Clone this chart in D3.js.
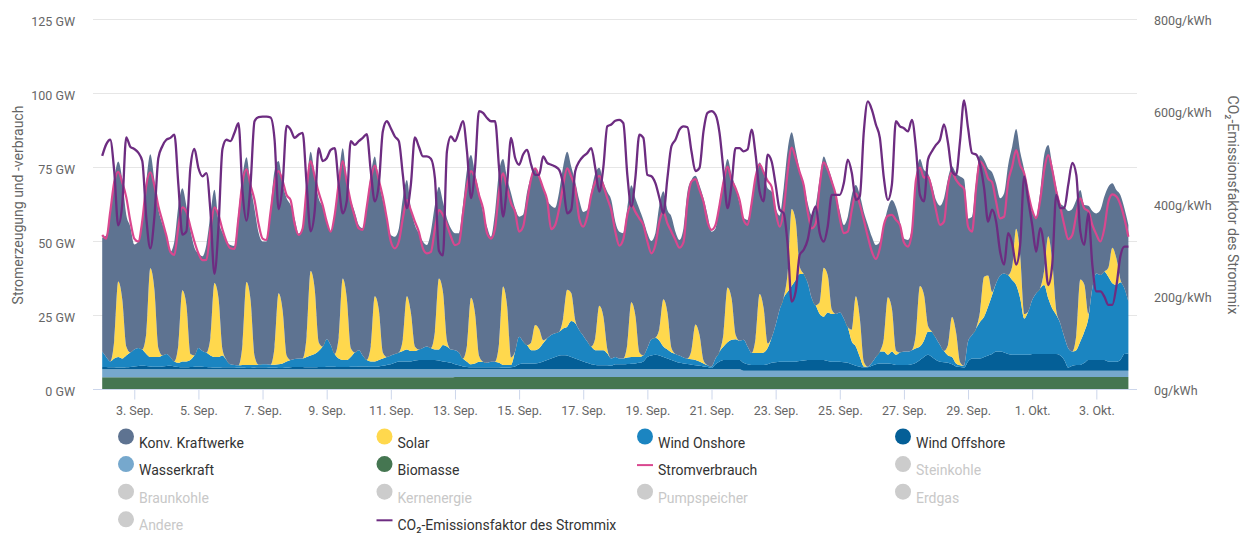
<!DOCTYPE html>
<html><head><meta charset="utf-8">
<script src="https://cdn.jsdelivr.net/npm/d3@7/dist/d3.min.js"></script>
<style>
body{margin:0;background:#fff;}
svg{display:block;font-family:Roboto,"Noto Sans",sans-serif;}
</style></head><body>
<svg id="chart" width="1240" height="534"></svg>
<script>
// time grid: 2 Sep 2021 00:00 UTC, one reading every 3 hours (8 per day), 32 days + end point
const startUTC = Date.UTC(2021, 8, 2, 0);
const stepHours = 3;

// GW, rows = days (0h,3h,6h,9h,12h,15h,18h,21h)
const biomasse = [
4.1,4.1,4.1,4.1,4.1,4.1,4.1,4.1, 4.1,4.1,4.1,4.1,4.1,4.1,4.1,4.1, 4.1,4.1,4.1,4.1,4.1,4.1,4.1,4.1,
4.1,4.1,4.1,4.1,4.1,4.1,4.1,4.1, 4.1,4.1,4.1,4.1,4.1,4.1,4.1,4.1, 4.1,4.1,4.1,4.1,4.1,4.1,4.1,4.1,
4.1,4.1,4.1,4.1,4.1,4.1,4.1,4.1, 4.1,4.1,4.1,4.1,4.1,4.1,4.1,4.1, 4.1,4.1,4.1,4.1,4.1,4.1,4.1,4.1,
4.1,4.1,4.1,4.1,4.1,4.1,4.1,4.1, 4.1,4.1,4.1,4.1,4.1,4.1,4.1,4.1, 4.2,4.2,4.2,4.2,4.2,4.2,4.2,4.2,
4.2,4.2,4.2,4.2,4.2,4.2,4.2,4.2, 4.2,4.2,4.2,4.2,4.2,4.2,4.2,4.2, 4.2,4.2,4.2,4.2,4.2,4.2,4.2,4.2,
4.2,4.2,4.2,4.2,4.2,4.2,4.2,4.2, 4.2,4.2,4.2,4.2,4.2,4.2,4.2,4.2, 4.2,4.2,4.2,4.2,4.2,4.2,4.2,4.2,
4.2,4.2,4.2,4.2,4.2,4.2,4.2,4.2, 4.2,4.2,4.2,4.2,4.2,4.2,4.2,4.2, 4.2,4.2,4.2,4.2,4.2,4.2,4.2,4.2,
4.2,4.2,4.2,4.2,4.2,4.2,4.2,4.2, 4.2,4.2,4.2,4.2,4.2,4.2,4.2,4.2, 4.2,4.2,4.2,4.2,4.2,4.2,4.2,4.2,
4.2,4.2,4.2,4.2,4.2,4.2,4.2,4.2, 4.2,4.2,4.2,4.2,4.2,4.2,4.2,4.2, 4.2,4.2,4.2,4.2,4.2,4.2,4.2,4.2,
4.2,4.2,4.2,4.2,4.2,4.2,4.2,4.2, 4.2,4.2,4.2,4.2,4.2,4.2,4.2,4.2, 4.2,4.2,4.2,4.2,4.2,4.2,4.2,4.2,
4.2,4.2,4.2,4.2,4.2,4.2,4.2,4.2, 4.2,4.2,4.2,4.2,4.2,4.2,4.2,4.2,
4.2];

const wasserkraft = [
2.7,2.7,2.7,2.7,2.7,2.7,2.7,2.7, 2.7,2.7,2.7,2.7,2.7,2.7,2.7,2.7, 2.7,2.7,2.7,2.7,2.7,2.7,2.7,2.7,
2.7,2.7,2.7,2.7,2.7,2.7,2.7,2.7, 2.7,2.7,2.7,2.7,2.7,2.7,2.7,2.7, 2.7,2.7,2.7,2.7,2.7,2.7,2.7,2.7,
2.7,2.7,2.7,2.7,2.7,2.7,2.7,2.7, 2.7,2.7,2.7,2.7,2.7,2.7,2.7,2.7, 2.7,2.7,2.7,2.7,2.7,2.7,2.7,2.7,
2.7,2.7,2.7,2.7,2.7,2.7,2.7,2.7, 2.7,2.7,2.7,2.7,2.7,2.7,2.7,2.7, 2.6,2.6,2.6,2.6,2.6,2.6,2.6,2.6,
2.6,2.6,2.6,2.6,2.6,2.6,2.6,2.6, 2.6,2.6,2.6,2.6,2.6,2.6,2.6,2.6, 2.6,2.6,2.6,2.6,2.6,2.6,2.6,2.6,
2.6,2.6,2.6,2.6,2.6,2.6,2.6,2.6, 2.6,2.6,2.6,2.6,2.6,2.6,2.6,2.6, 2.6,2.6,2.6,2.6,2.6,2.6,2.6,2.6,
2.6,2.6,2.6,2.6,2.6,2.6,2.6,2.6, 2.6,2.6,2.6,2.6,2.6,2.6,2.6,2.6, 2.1,2.1,2.1,2.1,2.1,2.1,2.1,2.1,
2.1,2.1,2.1,2.1,2.1,2.1,2.1,2.1, 2.1,2.1,2.1,2.1,2.1,2.1,2.1,2.1, 2.1,2.1,2.1,2.1,2.1,2.1,2.1,2.1,
2.1,2.1,2.1,2.1,2.1,2.1,2.1,2.1, 2.1,2.1,2.1,2.1,2.1,2.1,2.1,2.1, 2.1,2.1,2.1,2.1,2.1,2.1,2.1,2.1,
2.1,2.1,2.1,2.1,2.1,2.1,2.1,2.1, 2.1,2.1,2.1,2.1,2.1,2.1,2.1,2.1, 2.1,2.1,2.1,2.1,2.1,2.1,2.1,2.1,
2.1,2.1,2.1,2.1,2.1,2.1,2.1,2.1, 2.1,2.1,2.1,2.1,2.1,2.1,2.1,2.1,
2.1];

const windOffshore = [
0.8,0.8,0.7,0.7,0.6,0.6,0.7,0.8, 1.0,1.1,1.2,1.1,1.0,0.9,0.9,1.0, 1.1,1.2,1.0,0.8,0.7,0.7,0.8,0.9,
1.0,0.9,0.8,0.7,0.6,0.6,0.7,0.7, 0.7,0.7,0.6,0.6,0.5,0.5,0.6,0.7, 0.7,0.7,0.6,0.6,0.5,0.5,0.6,0.7,
0.8,0.8,0.8,0.7,0.7,0.7,0.8,0.8, 0.9,0.9,0.9,0.8,0.8,0.8,0.9,0.9, 1.0,1.0,1.0,0.9,0.9,1.0,1.2,1.5,
1.7,2.2,2.7,2.7,2.7,2.7,3.0,3.2, 3.2,3.2,3.2,3.2,3.0,2.7,2.5,2.2, 1.7,1.4,1.0,0.8,0.7,0.7,0.7,0.7,
0.7,0.7,0.7,0.7,0.6,0.6,0.7,1.0, 1.7,2.0,2.0,2.0,2.0,2.2,2.7,3.2, 3.7,4.2,4.7,4.8,4.7,4.2,3.7,3.2,
2.7,2.2,1.7,1.5,1.4,1.4,1.4,1.2, 1.7,1.7,1.7,1.8,1.9,2.0,2.2,2.7, 4.2,4.7,4.9,4.7,4.2,3.7,3.2,2.7,
2.2,2.0,1.8,1.6,1.4,1.2,1.0,0.8, 0.5,1.7,2.7,3.2,3.2,3.2,3.2,3.2, 2.7,2.2,2.0,2.0,2.0,2.0,2.2,2.7,
2.9,3.1,3.1,3.1,3.1,3.1,3.3,3.5, 3.7,3.7,3.7,3.7,3.7,3.3,3.1,3.1, 3.1,2.9,2.7,2.2,1.7,1.4,1.2,1.2,
1.7,2.2,2.5,2.5,2.5,2.3,2.0,2.0, 2.0,2.0,2.2,2.7,3.7,4.7,5.4,4.7, 3.7,3.1,2.9,2.7,2.2,1.5,1.3,1.1,
3.2,4.2,4.2,4.2,4.7,5.2,5.7,6.5, 6.5,6.2,5.7,5.4,5.4,5.4,5.4,5.4, 5.7,5.7,5.7,5.7,5.7,5.7,5.7,5.2,
3.7,1.1,1.7,2.0,2.0,2.7,3.7,3.7, 3.7,3.7,3.7,3.2,3.1,3.1,3.7,5.7,
5.9];

const windOnshore = [
5.2,3.4,2.0,3.0,3.6,3.1,4.0,4.9, 5.7,6.1,5.5,4.1,3.2,3.3,3.3,3.7, 4.1,3.0,1.7,1.4,2.0,2.0,2.4,3.8,
6.2,5.3,4.9,4.0,3.6,3.6,4.0,2.5, 1.0,0.8,0.8,0.9,1.0,1.0,0.9,0.9, 1.0,1.0,1.0,1.0,1.2,1.5,2.1,2.5,
2.7,2.9,2.9,3.5,4.0,4.5,5.4,6.9, 9.3,7.3,4.3,2.9,2.4,2.4,3.3,4.8, 5.5,3.7,2.2,1.8,1.8,2.2,2.5,2.7,
3.0,3.0,3.0,3.5,4.0,3.5,3.2,3.5, 4.0,4.5,4.0,3.5,3.7,5.5,5.2,4.5, 4.8,4.3,2.7,1.8,1.0,1.3,1.9,1.9,
1.5,1.9,1.9,1.5,0.9,0.9,0.8,5.0, 9.3,7.4,6.2,4.5,4.5,4.9,6.1,7.3, 7.9,8.0,8.0,9.0,9.7,12.1,11.9,10.1,
8.7,7.2,6.0,5.0,5.1,5.1,4.0,2.5, 2.5,2.0,2.0,2.2,2.3,2.2,2.0,2.0, 3.0,5.5,5.8,5.0,3.5,3.0,2.5,2.5,
2.5,2.0,1.9,1.8,1.8,1.5,1.0,0.6, 0.5,2.0,3.3,4.5,6.0,6.8,7.0,6.5, 7.8,6.0,4.0,4.0,4.0,4.2,5.5,8.5,
12.6,17.6,21.6,23.6,25.6,27.6,29.4,29.2, 26.0,20.8,18.5,15.5,14.6,16.4,16.1,16.1, 16.6,14.8,12.0,7.7,6.5,3.3,0.3,0.2,
1.0,2.5,4.0,4.0,2.9,4.2,3.4,4.2, 4.5,4.5,4.8,4.9,4.5,5.5,7.8,8.5, 7.3,5.6,3.8,2.5,2.5,1.0,0.6,0.6,
6.7,7.9,10.1,12.4,13.6,16.5,19.9,23.1, 25.7,26.7,26.7,25.3,23.6,19.1,12.3,14.6, 18.2,20.5,22.2,23.3,18.8,15.4,13.2,10.9,
7.8,6.5,4.8,5.0,7.9,10.5,14.0,24.2, 29.2,28.7,29.8,28.6,26.5,25.9,26.2,22.2,
17.5];

const solar = [
0,0,0,6,25.5,20,3,0, 0,0,0,7,30,23,3,0, 0,0,0,6,24,19,2,0,
0,0,0,6,25,20,2,0, 0,0,0,7,28,22,3,0, 0,0,0,6,24,18,2,0,
0,0,0,7,28.5,22,3,0, 0,0,0,7,27.5,21,3,0, 0,0,0,5,22,17,2,0,
0,0,0,4,18,13,1.5,0, 0,0,0,6,24,18,2,0, 0,0,0,5.5,22.5,17,2,0,
0,0,0,6.5,26.5,20,2.5,0, 0,0,0,2.5,8.5,6.5,1,0, 0,0,0,3.5,12.5,9.5,1,0,
0,0,0,4,15,11.5,1.5,0, 0,0,0,4.5,18.5,14,1.5,0, 0,0,0,4,16,12.5,1.5,0,
0,0,0,3,12,9,1,0, 0,0,0,4.5,18.5,14,1.5,0, 0,0,0,5,20,15,1.5,0,
0,0,0,6.5,26,20,2.5,0, 0,0,0,4,16.5,12.5,1.5,0, 0,0,0,4,17,13,1.5,0,
0,0,0,4.5,19.5,14.5,1.5,0, 0,0,0,5,20.5,15.5,2,0, 0,0,0,3.5,13.5,10.5,1,0,
0,0,0,3.5,13.5,10.5,1,0, 0,0,0,4.5,19,14.5,1.5,0, 0,0,0,5,21,16,1.5,0,
0,0,0,5,21,16,1.5,0, 0,0,0,3,12,9,1,0,
0];

const konvKraftwerke = [
38.5,41,50.5,54.5,40.5,40.5,44.5,42.5, 35.5,36,43.5,51,38.5,37,47,44.5, 40,35.5,40.5,47,34.5,33.5,42,36.5,
32,32,36.5,41.5,31.5,26,39.5,40, 40.3,40.2,51.8,56.7,42.2,38.7,49.7,44.6, 41.5,41.5,52.2,59.6,44.7,42.8,53.1,52.3,
47.5,42.2,43.9,51,40.3,38.5,48.6,47.2, 39.7,38.3,47.5,53.8,44,39.8,50,47.5, 42.3,43,52.3,58,47.2,43.2,51.5,46.8,
40.7,39.6,41.9,47.6,39.3,35.2,41.1,39.3, 36,34.3,39.3,42.8,31,30.4,41.3,40.9, 39.5,40.3,51.8,59.3,48.2,47.2,55.4,50.6,
46,42.2,50.6,58.1,43.1,43,55.5,48.4, 40.6,42.8,51.8,56.1,52.9,51.5,51.4,46.7, 43.7,42.4,47.3,51.2,46.6,42.7,46.8,43.9,
41.8,44.4,52.3,55.7,46.6,45.4,53.1,53.5, 45.7,42.8,42.3,45.9,39.5,39.6,48.5,45.8, 38.8,33.2,35.3,41.8,36.5,34.6,44.4,41.3,
39,43.6,56.3,57.6,50.2,50.5,54.8,50.8, 45.5,43.9,50.6,52.3,43.4,41.7,50,46.4, 41.1,42.8,51.2,54.7,44.4,45.6,52.5,49.4,
39.4,31.7,37,41.4,25.9,23.9,32.6,30.6, 26.9,28.1,33.8,41.8,37.6,36.8,44.1,40.2, 34.3,31.6,37.4,45.5,37.6,41.7,50.7,48,
42.6,37.8,37.1,38.3,30,36.7,48.5,44.2, 38.2,37.7,41.1,52.4,42.9,42.2,51.5,49.6, 46.7,47.1,51.6,56.3,50.8,53.7,62.8,63,
41.6,40,49.6,52.8,39.5,36.2,40.5,33.7, 26.1,27.1,37.1,40.5,33.7,35,48.7,40, 29.8,25.9,32.6,38.9,30.8,32.4,41.8,40.5,
44,46.4,48.2,45.7,30.2,26.8,36.6,26.1, 20.3,21.9,25.4,27.4,21.8,23.1,28.5,27,
25.9];

const stromverbrauch = [
52.2,51,60,70,73.5,70,65,57, 51,50,57,69,73.4,69,62,57, 52,46.5,45.5,55,61.5,60,55,50,
46,43.7,43.8,54,61.5,59,54,50, 47.7,47.5,58,70,74.5,69,64,56, 51,50.5,60,70,73.8,70.5,65.7,64,
56,52.2,54.4,68,77.2,72,66.6,62.3, 56.7,53.3,59,69.6,77.2,70.2,63.4,58.4, 54.4,53.9,61.7,70.8,75.6,70.8,65.1,57.8,
50,47.7,50,57.8,64,60.6,56.7,53.3, 47.7,46,46.5,54.4,60.6,59,55.6,51.6, 48.8,49.4,59.5,69,73.8,71.3,65.7,61.2,
52.8,51,54.4,66.8,73,68,62.9,60, 53.3,55,63.4,71.3,74.7,71.9,68,64, 54.2,55.6,61.2,69,74.7,71.9,68,57.8,
55,58.4,65.7,70.2,72.2,69,64.6,60.6, 53.3,48.6,50.8,59,62.5,60,57.8,55.6, 50,46,48.8,56.7,60,56.1,53.3,50.5,
47.9,49.7,63.4,70.2,71.1,67.4,63.4,56.7, 53.9,55.6,62.3,70.2,75.3,70.8,68,64, 57.3,55.6,62.9,71.9,76.1,73.4,70.5,68.5,
60,55,60.6,73.6,81.7,78.1,73.4,69, 60,54.4,56.1,69,76.7,74.2,70.2,65.7, 57.8,52.8,53.3,60.6,66.3,62.5,57.3,51.6,
46.6,44.1,47.7,55.6,58.7,59,57.3,55.6, 49.7,48.3,53.3,70.8,75,71.6,71.9,67.4, 60.6,55.6,56.7,69,73.4,70.8,69.1,67.7,
55,53.3,68,77,75.3,71.3,70,63.4, 57.8,58.4,70.2,75.3,80.9,75.8,73,66.3, 60.6,57.8,64,74.2,79.2,74.2,67,61.7,
55.6,50.8,52.2,59,64.6,61.2,60.3,55.6, 52.4,50,54.4,63.4,65.9,65.2,62.5,57.8,
51.6];

// g/kWh
const co2Faktor = [
505,530,540,472,355,400,545,525, 520,512,494,371,305,371,500,526, 540,544,551,443,335,342,479,520,
479,461,468,385,250,350,520,540, 537,555,576,428,365,443,580,589, 590,590,588,540,390,443,570,562,
544,551,555,443,342,385,522,494, 500,518,522,443,381,407,537,529, 537,544,552,472,407,443,558,580,
565,547,537,464,392,443,545,525, 504,504,499,457,300,290,515,547, 537,558,580,515,414,479,602,598,
587,580,580,479,374,443,544,501, 486,508,518,486,464,464,504,490, 486,482,475,443,381,389,472,493,
504,511,522,479,428,479,569,573, 581,583,576,464,396,457,551,544, 464,461,446,414,381,457,526,540,
562,569,567,515,472,479,558,598, 602,594,555,472,392,443,522,522, 515,519,562,508,428,407,508,493,
443,389,381,313,190,212,291,302, 324,371,396,338,320,353,421,421, 421,446,497,468,410,418,558,623,
605,573,544,457,410,443,580,569, 565,558,583,522,421,407,497,515, 529,540,573,533,472,464,537,625,
565,511,508,486,436,363,389,363, 298,270,338,316,270,313,461,410, 356,298,349,306,226,270,421,392,
392,443,490,464,342,313,381,270, 212,212,201,183,183,223,288,309,
309];

const xTickDates = ["2021-09-03","2021-09-05","2021-09-07","2021-09-09","2021-09-11","2021-09-13","2021-09-15","2021-09-17",
  "2021-09-19","2021-09-21","2021-09-23","2021-09-25","2021-09-27","2021-09-29","2021-10-01","2021-10-03"];
const xTickLabels = ["3. Sep.","5. Sep.","7. Sep.","9. Sep.","11. Sep.","13. Sep.","15. Sep.","17. Sep.",
  "19. Sep.","21. Sep.","23. Sep.","25. Sep.","27. Sep.","29. Sep.","1. Okt.","3. Okt."];
const yLeftTicks = [0,25,50,75,100,125];
const yRightTicks = [0,200,400,600,800];

const stackKeys = ["Biomasse","Wasserkraft","Wind Offshore","Wind Onshore","Solar","Konv. Kraftwerke"];
const seriesData = {"Biomasse":biomasse,"Wasserkraft":wasserkraft,"Wind Offshore":windOffshore,
  "Wind Onshore":windOnshore,"Solar":solar,"Konv. Kraftwerke":konvKraftwerke};
const colors = {"Biomasse":"#457651","Wasserkraft":"#76a8cd","Wind Offshore":"#045f97",
  "Wind Onshore":"#1b85c1","Solar":"#ffd84d","Konv. Kraftwerke":"#5e7391",
  "Stromverbrauch":"#d9478f","CO2":"#6d2c81","off":"#cccccc"};

const legendItems = [
  ["Konv. Kraftwerke","circle",colors["Konv. Kraftwerke"],true],["Solar","circle",colors["Solar"],true],
  ["Wind Onshore","circle",colors["Wind Onshore"],true],["Wind Offshore","circle",colors["Wind Offshore"],true],
  ["Wasserkraft","circle",colors["Wasserkraft"],true],["Biomasse","circle",colors["Biomasse"],true],
  ["Stromverbrauch","line",colors["Stromverbrauch"],true],["Steinkohle","circle",colors.off,false],
  ["Braunkohle","circle",colors.off,false],["Kernenergie","circle",colors.off,false],
  ["Pumpspeicher","circle",colors.off,false],["Erdgas","circle",colors.off,false],
  ["Andere","circle",colors.off,false],["CO₂-Emissionsfaktor des Strommix","line",colors.CO2,true]
];

// ---------- drawing ----------
const svg = d3.select("#chart");
const times = konvKraftwerke.map((_, i) => new Date(startUTC + i * stepHours * 3600000));
const rows = times.map((t, i) => {
  const r = {t};
  stackKeys.forEach(k => r[k] = seriesData[k][i]);
  return r;
});

const x = d3.scaleUtc().domain([times[0], times[times.length - 1]]).range([102.2, 1128.4]);
const yL = d3.scaleLinear().domain([0, 125]).range([389.5, 19.5]);
const yR = d3.scaleLinear().domain([0, 800]).range([389.5, 19.5]);

// grid
svg.append("g").selectAll("line").data(yLeftTicks.filter(v => v > 0)).join("line")
  .attr("x1", 93).attr("x2", 1137).attr("y1", d => yL(d)).attr("y2", d => yL(d))
  .attr("stroke", "#e6e6e6").attr("stroke-width", 1);

// stacked areas
const stacked = d3.stack().keys(stackKeys)(rows);
const area = d3.area().curve(d3.curveMonotoneX)
  .x(d => x(d.data.t)).y0(d => yL(d[0])).y1(d => yL(d[1]));
svg.append("g").selectAll("path").data(stacked).join("path")
  .attr("d", area).attr("fill", d => colors[d.key]);

// lines
const lineV = d3.line().curve(d3.curveMonotoneX).x((d, i) => x(times[i])).y(d => yL(d));
svg.append("path").datum(stromverbrauch).attr("d", lineV)
  .attr("fill", "none").attr("stroke", colors.Stromverbrauch).attr("stroke-width", 2.2).attr("stroke-linejoin", "round");
const lineC = d3.line().curve(d3.curveMonotoneX).x((d, i) => x(times[i])).y(d => yR(d));
svg.append("path").datum(co2Faktor).attr("d", lineC)
  .attr("fill", "none").attr("stroke", colors.CO2).attr("stroke-width", 2.3).attr("stroke-linejoin", "round");

// x axis
svg.append("line").attr("x1", 93).attr("x2", 1137).attr("y1", 389.5).attr("y2", 389.5)
  .attr("stroke", "#ccd6eb").attr("stroke-width", 1);
const parse = d3.utcParse("%Y-%m-%d");
const tickDates = xTickDates.map(parse);
const xAxis = d3.axisBottom(x).tickValues(tickDates).tickSize(10).tickPadding(7)
  .tickFormat((d, i) => xTickLabels[i]);
const gx = svg.append("g").attr("transform", "translate(0,389.5)").call(xAxis);
gx.select(".domain").remove();
gx.selectAll(".tick line").attr("stroke", "#ccd6eb");
gx.selectAll(".tick text").attr("fill", "#666666").attr("font-size", "12.5px")
  .attr("font-family", "Roboto, 'Noto Sans', sans-serif");

// left y axis labels
const gyl = svg.append("g").attr("transform", "translate(75,0)")
  .call(d3.axisLeft(yL).tickValues(yLeftTicks).tickSize(0).tickPadding(0).tickFormat(d => d + " GW"));
gyl.select(".domain").remove();
gyl.selectAll(".tick text").attr("fill", "#666666").attr("font-size", "12.5px")
  .attr("font-family", "Roboto, 'Noto Sans', sans-serif").attr("dy", "0.45em");

// right y axis labels
const gyr = svg.append("g").attr("transform", "translate(1154,0)")
  .call(d3.axisRight(yR).tickValues(yRightTicks).tickSize(0).tickPadding(0).tickFormat(d => d + "g/kWh"));
gyr.select(".domain").remove();
gyr.selectAll(".tick text").attr("fill", "#666666").attr("font-size", "12.5px")
  .attr("font-family", "Roboto, 'Noto Sans', sans-serif").attr("dy", "0.38em");

// axis titles
svg.append("text").attr("transform", "translate(17.5,205) rotate(-90)")
  .attr("text-anchor", "middle").attr("dominant-baseline", "central")
  .attr("fill", "#666666").attr("font-size", "14px").text("Stromerzeugung und -verbrauch");
svg.append("text").attr("transform", "translate(1232.5,205) rotate(90)")
  .attr("text-anchor", "middle").attr("dominant-baseline", "central")
  .attr("fill", "#666666").attr("font-size", "14px").text("CO₂-Emissionsfaktor des Strommix");

// legend
const colX = [126, 384.5, 645, 903];
const lg = svg.append("g").selectAll("g").data(legendItems).join("g")
  .attr("transform", (d, i) => `translate(${colX[i % 4]},${436.5 + 27.6 * Math.floor(i / 4)})`);
lg.filter(d => d[1] === "circle").append("circle").attr("r", 8).attr("fill", d => d[2]);
lg.filter(d => d[1] === "line").append("line").attr("x1", -8).attr("x2", 8).attr("y1", 1).attr("y2", 1)
  .attr("stroke", d => d[2]).attr("stroke-width", 2);
lg.append("text").attr("x", 13).attr("y", 11).attr("font-size", "14px")
  .attr("fill", d => d[3] ? "#333333" : "#c8c8c8").text(d => d[0]);
</script>
</body></html>
